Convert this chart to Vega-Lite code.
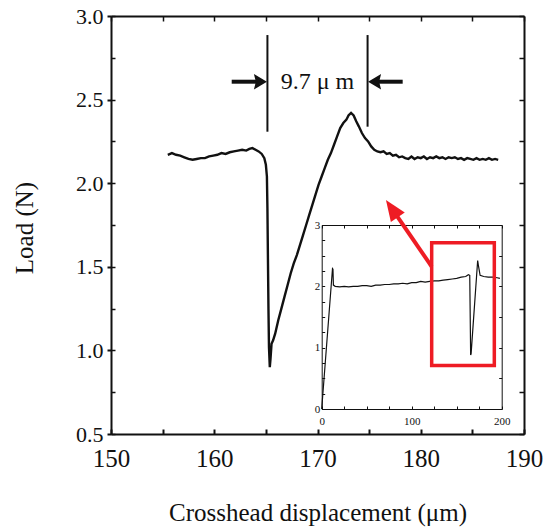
{
  "$schema": "https://vega.github.io/schema/vega-lite/v6.json",
  "width": 413,
  "height": 418,
  "autosize": "none",
  "padding": {"left": 111, "top": 16, "right": 20, "bottom": 93},
  "background": "white",
  "config": {
    "view": {"stroke": null},
    "axis": {"grid": false, "labelFont": "Liberation Serif", "titleFont": "Liberation Serif", "domainColor": "#111", "tickColor": "#111", "labelColor": "#111", "titleColor": "#111", "titleFontWeight": "normal", "labelFlush": false, "labelOverlap": false}
  },
  "datasets": {
    "main": [
      {"x":155.5,"y":2.17},{"x":155.9,"y":2.18},{"x":156.3,"y":2.17},{"x":156.7,"y":2.165},{"x":157.1,"y":2.155},{"x":157.5,"y":2.145},{"x":157.9,"y":2.14},{"x":158.3,"y":2.145},{"x":158.7,"y":2.15},{"x":159.1,"y":2.15},{"x":159.5,"y":2.16},{"x":159.9,"y":2.165},{"x":160.3,"y":2.17},{"x":160.7,"y":2.18},{"x":161.1,"y":2.175},{"x":161.5,"y":2.185},{"x":161.9,"y":2.19},{"x":162.3,"y":2.195},{"x":162.7,"y":2.2},{"x":163.1,"y":2.195},{"x":163.4,"y":2.205},{"x":163.7,"y":2.21},{"x":164.0,"y":2.2},{"x":164.3,"y":2.19},{"x":164.6,"y":2.175},{"x":164.85,"y":2.15},{"x":165.0,"y":2.11},{"x":165.1,"y":2.04},{"x":165.15,"y":1.85},{"x":165.2,"y":1.55},{"x":165.25,"y":1.25},{"x":165.3,"y":1.02},{"x":165.38,"y":0.9},{"x":165.45,"y":0.95},{"x":165.55,"y":1.04},{"x":165.7,"y":1.06},{"x":165.9,"y":1.1},{"x":166.2,"y":1.18},{"x":166.5,"y":1.25},{"x":166.8,"y":1.32},{"x":167.1,"y":1.39},{"x":167.4,"y":1.46},{"x":167.7,"y":1.52},{"x":168.0,"y":1.57},{"x":168.3,"y":1.63},{"x":168.6,"y":1.69},{"x":168.9,"y":1.75},{"x":169.2,"y":1.81},{"x":169.5,"y":1.87},{"x":169.8,"y":1.93},{"x":170.1,"y":1.99},{"x":170.4,"y":2.04},{"x":170.7,"y":2.09},{"x":171.0,"y":2.14},{"x":171.3,"y":2.18},{"x":171.6,"y":2.23},{"x":171.9,"y":2.28},{"x":172.2,"y":2.33},{"x":172.5,"y":2.36},{"x":172.8,"y":2.38},{"x":173.0,"y":2.405},{"x":173.25,"y":2.42},{"x":173.5,"y":2.405},{"x":173.75,"y":2.37},{"x":174.0,"y":2.34},{"x":174.3,"y":2.3},{"x":174.6,"y":2.27},{"x":174.9,"y":2.25},{"x":175.2,"y":2.22},{"x":175.5,"y":2.2},{"x":175.8,"y":2.19},{"x":176.1,"y":2.185},{"x":176.4,"y":2.19},{"x":176.7,"y":2.175},{"x":177.0,"y":2.18},{"x":177.3,"y":2.165},{"x":177.6,"y":2.17},{"x":177.9,"y":2.155},{"x":178.2,"y":2.16},{"x":178.5,"y":2.15},{"x":178.8,"y":2.145},{"x":179.1,"y":2.16},{"x":179.4,"y":2.145},{"x":179.7,"y":2.155},{"x":180.0,"y":2.15},{"x":180.3,"y":2.16},{"x":180.6,"y":2.145},{"x":180.9,"y":2.155},{"x":181.2,"y":2.15},{"x":181.5,"y":2.16},{"x":181.8,"y":2.15},{"x":182.1,"y":2.155},{"x":182.4,"y":2.145},{"x":182.7,"y":2.155},{"x":183.0,"y":2.15},{"x":183.3,"y":2.155},{"x":183.6,"y":2.145},{"x":183.9,"y":2.15},{"x":184.2,"y":2.14},{"x":184.5,"y":2.15},{"x":184.8,"y":2.145},{"x":185.1,"y":2.14},{"x":185.4,"y":2.15},{"x":185.7,"y":2.14},{"x":186.0,"y":2.145},{"x":186.3,"y":2.14},{"x":186.6,"y":2.15},{"x":186.9,"y":2.14},{"x":187.2,"y":2.145},{"x":187.5,"y":2.14}
    ],
    "inset": [
      {"x":0,"y":0},{"x":12,"y":2.29},{"x":12.5,"y":2.28},{"x":13,"y":2.02},{"x":15,"y":2.0},{"x":20,"y":1.99},{"x":25,"y":2.0},{"x":30,"y":1.99},{"x":35,"y":2.0},{"x":40,"y":2.0},{"x":45,"y":2.01},{"x":50,"y":2.01},{"x":55,"y":2.0},{"x":60,"y":2.02},{"x":65,"y":2.02},{"x":70,"y":2.03},{"x":75,"y":2.03},{"x":80,"y":2.04},{"x":85,"y":2.04},{"x":90,"y":2.05},{"x":95,"y":2.04},{"x":100,"y":2.06},{"x":105,"y":2.06},{"x":110,"y":2.08},{"x":115,"y":2.07},{"x":120,"y":2.08},{"x":125,"y":2.09},{"x":130,"y":2.09},{"x":135,"y":2.1},{"x":140,"y":2.11},{"x":145,"y":2.12},{"x":150,"y":2.13},{"x":155,"y":2.15},{"x":160,"y":2.16},{"x":163,"y":2.19},{"x":164.5,"y":2.18},{"x":165.5,"y":0.88},{"x":166,"y":0.9},{"x":173.3,"y":2.42},{"x":174,"y":2.35},{"x":176,"y":2.18},{"x":180,"y":2.16},{"x":185,"y":2.15},{"x":190,"y":2.15},{"x":195,"y":2.14},{"x":198,"y":2.13}
    ],
    "vlines": [{"x":165.15,"y":2.886,"y2":2.308},{"x":174.85,"y":2.886,"y2":2.338}],
    "shafts": [{"x":161.69,"x2":164.5,"y":2.607},{"x":178.25,"x2":175.55,"y":2.607}],
    "headL": [{"x":165.1,"y":2.607}],
    "headR": [{"x":174.9,"y":2.607}],
    "label": [{"x":170.0,"y":2.607,"text":"9.7 μ m"}],
    "redShaft": [{"x":181.06,"y":1.501,"x2":177.19,"y2":1.85}],
    "redHead": [{"x":176.63,"y":1.9}],
    "box": [{"x":122.2,"x2":191.8,"y":0.71,"y2":2.71}]
  },
  "layer": [
    {
      "layer": [
        {
          "data": {"name": "main"},
          "mark": {"type": "line", "color": "#111", "strokeWidth": 2.4},
          "encoding": {
            "x": {"field": "x", "type": "quantitative", "scale": {"domain": [150, 190], "nice": false, "zero": false},
              "axis": {"orient": "bottom", "values": [150, 160, 170, 180, 190], "ticks": false, "domainWidth": 2, "labelFontSize": 25, "labelPadding": 12, "labelBaseline": "top", "title": "Crosshead displacement (μm)", "titleFontSize": 25, "titleX": 206.5, "titleY": 86, "titleBaseline": "alphabetic"}},
            "y": {"field": "y", "type": "quantitative", "scale": {"domain": [0.5, 3.0], "nice": false, "zero": false},
              "axis": {"orient": "left", "values": [0.5, 1, 1.5, 2, 2.5, 3], "format": ".1f", "tickSize": 4, "tickWidth": 2, "domainWidth": 2, "labelFontSize": 22, "labelPadding": 4, "title": "Load (N)", "titleFontSize": 25, "titleX": -79, "titleY": 211.5, "titleBaseline": "alphabetic", "titleAngle": -90}}
          }
        },
        {
          "data": {"name": "vlines"},
          "mark": {"type": "rule", "color": "#111", "strokeWidth": 2},
          "encoding": {
            "x": {"field": "x", "type": "quantitative", "scale": {"domain": [150, 190], "nice": false, "zero": false},
              "axis": {"orient": "bottom", "values": [150,155,160,165,170,175,180,185,190], "labels": false, "domain": false, "tickSize": -5, "tickWidth": 2, "title": null}},
            "y": {"field": "y", "type": "quantitative", "scale": {"domain": [0.5, 3.0], "nice": false, "zero": false},
              "axis": {"orient": "left", "values": [0.5,0.75,1,1.25,1.5,1.75,2,2.25,2.5,2.75,3], "labels": false, "domain": false, "tickSize": -4, "tickWidth": 1.5, "title": null}},
            "y2": {"field": "y2"}
          }
        },
        {
          "data": {"name": "shafts"},
          "mark": {"type": "rule", "color": "#111", "strokeWidth": 4},
          "encoding": {
            "x": {"field": "x", "type": "quantitative", "scale": {"domain": [150, 190], "nice": false, "zero": false},
              "axis": {"orient": "top", "values": [150,155,160,165,170,175,180,185,190], "labels": false, "domainWidth": 2, "tickSize": -5, "tickWidth": 1.5, "title": null}},
            "x2": {"field": "x2"},
            "y": {"field": "y", "type": "quantitative", "scale": {"domain": [0.5, 3.0], "nice": false, "zero": false},
              "axis": {"orient": "right", "values": [0.5,0.75,1,1.25,1.5,1.75,2,2.25,2.5,2.75,3], "labels": false, "domainWidth": 2, "tickSize": -5, "tickWidth": 1.5, "title": null}}
          }
        },
        {
          "data": {"name": "headL"},
          "mark": {"type": "point", "shape": "M0,0L-1,-0.6L-0.85,0L-1,0.6Z", "size": 676, "filled": true, "color": "#111", "opacity": 1, "angle": 0, "strokeWidth": 0},
          "encoding": {
            "x": {"field": "x", "type": "quantitative", "axis": null},
            "y": {"field": "y", "type": "quantitative", "axis": null}
          }
        },
        {
          "data": {"name": "headR"},
          "mark": {"type": "point", "shape": "M0,0L-1,-0.6L-0.85,0L-1,0.6Z", "size": 676, "filled": true, "color": "#111", "opacity": 1, "angle": 180, "strokeWidth": 0},
          "encoding": {
            "x": {"field": "x", "type": "quantitative", "axis": null},
            "y": {"field": "y", "type": "quantitative", "axis": null}
          }
        },
        {
          "data": {"name": "label"},
          "mark": {"type": "text", "font": "Liberation Serif", "fontSize": 24, "color": "#111", "align": "center", "baseline": "middle"},
          "encoding": {
            "x": {"field": "x", "type": "quantitative", "axis": null},
            "y": {"field": "y", "type": "quantitative", "axis": null},
            "text": {"field": "text"}
          }
        },
        {
          "data": {"name": "redShaft"},
          "mark": {"type": "rule", "color": "#ee1c24", "strokeWidth": 4},
          "encoding": {
            "x": {"field": "x", "type": "quantitative", "axis": null},
            "y": {"field": "y", "type": "quantitative", "axis": null},
            "x2": {"field": "x2"},
            "y2": {"field": "y2"}
          }
        },
        {
          "data": {"name": "redHead"},
          "mark": {"type": "point", "shape": "M0,0L-1,-0.4L-1,0.4Z", "size": 1764, "filled": true, "color": "#ee1c24", "opacity": 1, "angle": 235.6, "strokeWidth": 0},
          "encoding": {
            "x": {"field": "x", "type": "quantitative", "axis": null},
            "y": {"field": "y", "type": "quantitative", "axis": null}
          }
        }
      ],
      "resolve": {"axis": {"x": "independent", "y": "independent"}}
    },
    {
      "layer": [
        {
          "data": {"name": "inset"},
          "mark": {"type": "line", "color": "#111", "strokeWidth": 1.2},
          "encoding": {
            "x": {"field": "x", "type": "quantitative", "scale": {"domain": [0, 200], "nice": false, "zero": false, "range": [210.7, 390.7]},
              "axis": {"orient": "bottom", "offset": -25, "values": [0,25,50,75,100,125,150,175,200], "format": "d", "labelExpr": "datum.value % 100 === 0 ? datum.label : ''", "tickSize": -3, "tickWidth": 1, "domainWidth": 1, "labelFontSize": 11, "labelPadding": 9, "title": null}},
            "y": {"field": "y", "type": "quantitative", "scale": {"domain": [0, 3], "nice": false, "zero": false, "range": [393, 209]},
              "axis": {"orient": "left", "offset": -210.7, "values": [0,0.25,0.5,0.75,1,1.25,1.5,1.75,2,2.25,2.5,2.75,3], "format": ".0f", "labelExpr": "datum.value % 1 === 0 ? datum.label : ''", "tickSize": -3, "tickWidth": 1, "domainWidth": 1, "labelFontSize": 11, "labelPadding": 5, "title": null}}
          }
        },
        {
          "data": {"name": "box"},
          "mark": {"type": "rect", "filled": false, "stroke": "#ee1c24", "strokeWidth": 3.5},
          "encoding": {
            "x": {"field": "x", "type": "quantitative", "scale": {"domain": [0, 200], "nice": false, "zero": false, "range": [210.7, 390.7]},
              "axis": {"orient": "top", "offset": -209, "values": [0,25,50,75,100,125,150,175,200], "labels": false, "tickSize": -3, "tickWidth": 1, "domainWidth": 1, "title": null}},
            "x2": {"field": "x2"},
            "y": {"field": "y", "type": "quantitative", "scale": {"domain": [0, 3], "nice": false, "zero": false, "range": [393, 209]},
              "axis": {"orient": "right", "offset": -22.3, "values": [0,0.5,1,1.5,2,2.5,3], "labels": false, "tickSize": -3, "tickWidth": 1, "domainWidth": 1, "title": null}},
            "y2": {"field": "y2"}
          }
        }
      ],
      "resolve": {"axis": {"x": "independent", "y": "independent"}}
    }
  ],
  "resolve": {"scale": {"x": "independent", "y": "independent"}, "axis": {"x": "independent", "y": "independent"}}
}
